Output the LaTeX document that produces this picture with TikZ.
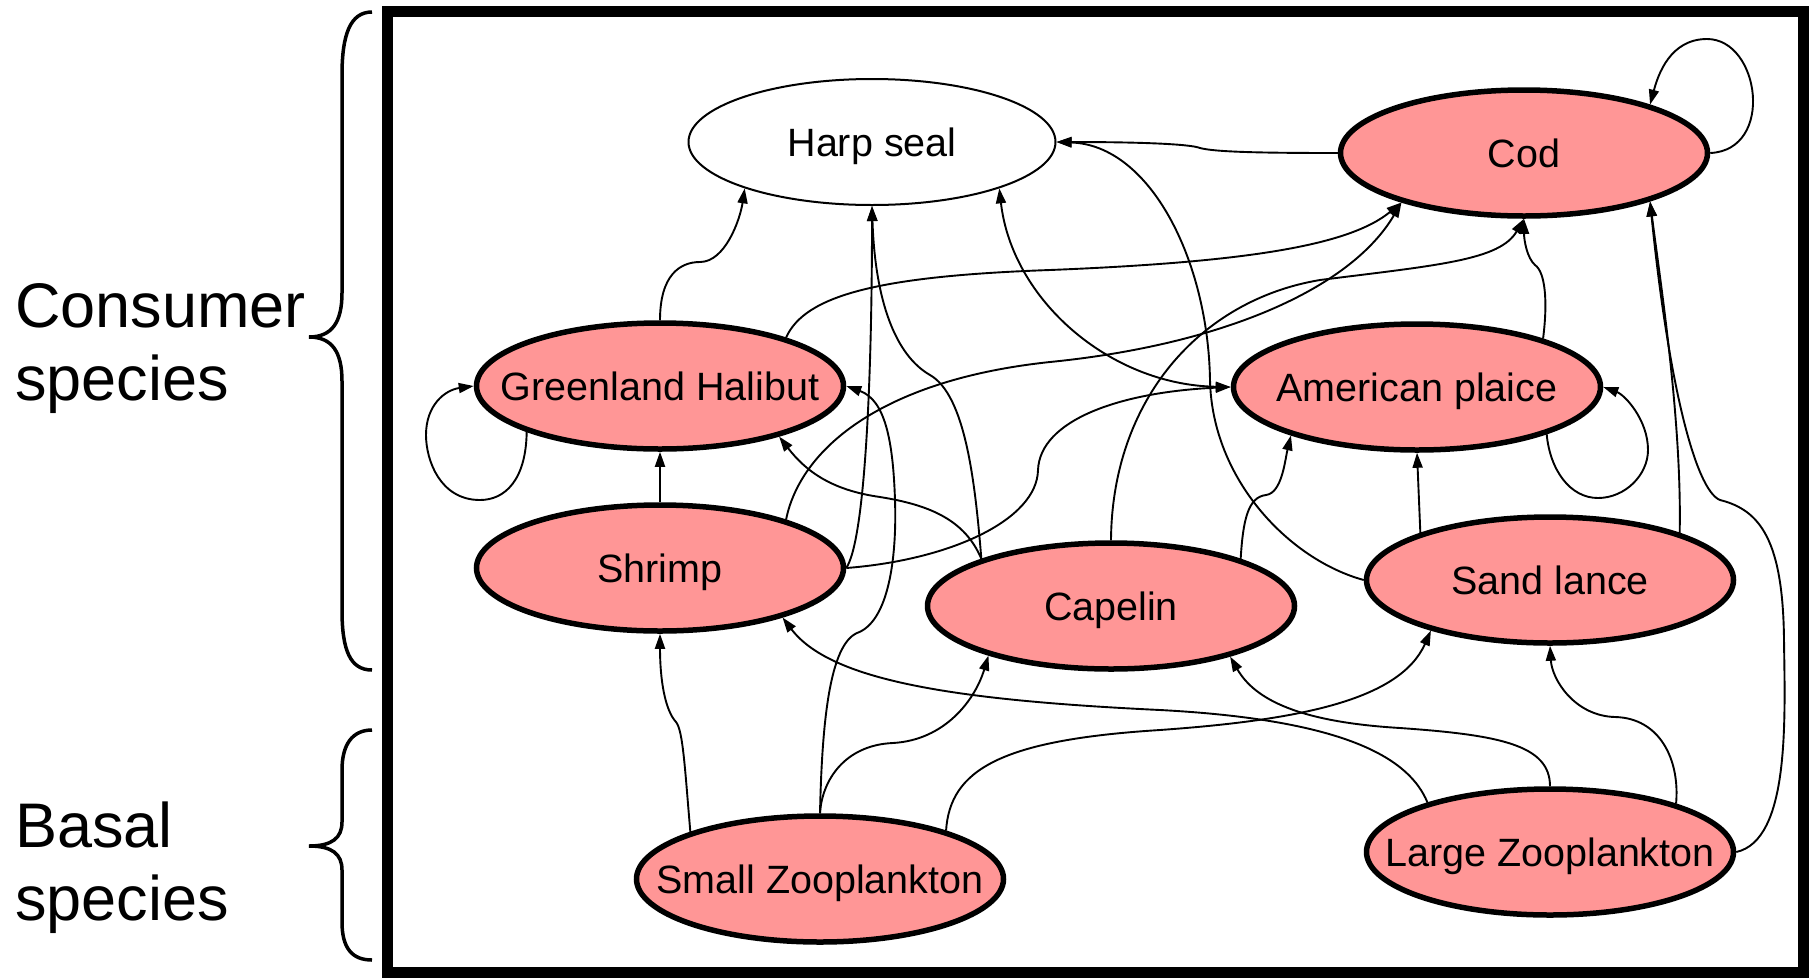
\documentclass[tikz,border=0pt]{standalone}
\usepackage{fontspec}
\setmainfont{Liberation Sans}
\usetikzlibrary{shapes.geometric,arrows.meta}
\definecolor{fishpink}{RGB}{255,150,150}
\newcommand{\spn}[1]{\makebox[0pt]{\raisebox{-14pt}[0pt][0pt]{#1}}}

\begin{document}
\begin{tikzpicture}[x=1pt, y=-1pt,
  sp/.style={ellipse, draw, line width=5.5pt, fill=fishpink, minimum width=367pt, minimum height=126pt, inner sep=0pt, font=\fontsize{39.5}{44}\selectfont},
  wsp/.style={sp, fill=white, line width=2pt},
  tr/.style={-{Triangle[length=15pt,width=10pt]}, line width=1.9pt},
  trb/.style={{Triangle[length=15pt,width=10pt]}-{Triangle[length=15pt,width=10pt]}, line width=1.9pt},
  brc/.style={line width=3.5pt},
  lbl/.style={align=left, inner sep=0pt, anchor=north west, font=\fontsize{63}{73}\selectfont}]
\useasboundingbox (0,0) rectangle (1810,978);
\draw[line width=11pt] (387,11.5) rectangle (1803,972.5);
\node[wsp] (harp) at (872,142) {\spn{Harp seal}};
\node[sp] (cod) at (1524,153) {\spn{Cod}};
\node[sp] (gh) at (660,386) {\spn{Greenland Halibut}};
\node[sp] (ap) at (1417,387) {\spn{American plaice}};
\node[sp] (shrimp) at (660,568) {\spn{Shrimp}};
\node[sp] (capelin) at (1111,606) {\spn{Capelin}};
\node[sp] (sand) at (1550,580) {\spn{Sand lance}};
\node[sp] (szoo) at (820,879) {\spn{Small Zooplankton}};
\node[sp] (lzoo) at (1550,852) {\spn{Large Zooplankton}};
\draw[tr] (cod.west) .. controls (1260,153) and (1215,152) .. (1200,148) .. controls (1190,144) and (1140,142) .. (harp.east);
\draw[tr] (cod.east) .. controls (1775,150) and (1760,39) .. (1707,39) .. controls (1670,39) and (1658,75) .. (cod.21);
\draw[tr] (gh.north) .. controls (660,275) and (680,262) .. (700,262) .. controls (725,262) and (740,220) .. (harp.200);
\draw[tr] (gh.199) .. controls (526,480) and (505,500) .. (480,500) .. controls (440,500) and (426,460) .. (426,435) .. controls (426,405) and (445,390) .. (gh.west);
\draw[tr] (shrimp.north) -- (gh.south);
\draw[tr] (gh.21) .. controls (805,295) and (880,276) .. (1050,270) .. controls (1250,262) and (1350,245) .. (cod.202);
\draw[tr] (shrimp.21) .. controls (800,450) and (880,380) .. (1050,362) .. controls (1220,345) and (1350,290) .. (cod.202);
\draw[tr] (shrimp.east) .. controls (865,540) and (872,380) .. (harp.south);
\draw[tr] (shrimp.east) .. controls (950,560) and (1037,520) .. (1038,470) .. controls (1040,420) and (1120,392) .. (ap.west);
\draw[trb] (harp.340) .. controls (1012,300) and (1110,385) .. (ap.west);
\draw[tr] (sand.west) .. controls (1290,560) and (1212,480) .. (1210,380) .. controls (1208,260) and (1150,145) .. (harp.east);
\draw[tr] (capelin.160) .. controls (975,480) and (965,395) .. (930,375) .. controls (895,355) and (875,300) .. (harp.south);
\draw[tr] (capelin.160) .. controls (965,520) and (930,505) .. (880,497) .. controls (830,490) and (805,470) .. (gh.337);
\draw[tr] (capelin.north) .. controls (1112,400) and (1200,300) .. (1320,280) .. controls (1440,265) and (1500,260) .. (cod.south);
\draw[tr] (capelin.20) .. controls (1243,520) and (1248,497) .. (1266,495) .. controls (1282,493) and (1285,460) .. (ap.201);
\draw[tr] (ap.340) .. controls (1550,470) and (1570,498) .. (1598,498) .. controls (1625,498) and (1648,475) .. (1648,450) .. controls (1648,420) and (1625,395) .. (ap.east);
\draw[tr] (ap.21) .. controls (1548,300) and (1545,272) .. (1535,265) .. controls (1527,258) and (1524,240) .. (cod.south);
\draw[tr] (sand.160) -- (ap.south);
\draw[tr] (sand.20) .. controls (1682,420) and (1660,280) .. (cod.339);
\draw[tr] (lzoo.east) .. controls (1790,840) and (1785,720) .. (1784,640) .. controls (1783,540) and (1760,510) .. (1720,500) .. controls (1695,490) and (1668,380) .. (cod.339);
\draw[tr] (szoo.160) .. controls (685,770) and (683,730) .. (676,722) .. controls (665,710) and (660,680) .. (shrimp.south);
\draw[tr] (szoo.north) .. controls (822,720) and (830,645) .. (857,633) .. controls (888,622) and (897,560) .. (895,500) .. controls (893,440) and (885,400) .. (gh.east);
\draw[tr] (szoo.north) .. controls (822,780) and (845,745) .. (893,743) .. controls (945,740) and (975,700) .. (capelin.202);
\draw[tr] (szoo.21) .. controls (950,770) and (1000,740) .. (1160,730) .. controls (1300,720) and (1400,700) .. (sand.203);
\draw[tr] (lzoo.158) .. controls (1410,760) and (1350,720) .. (1160,710) .. controls (950,700) and (830,680) .. (shrimp.338);
\draw[tr] (lzoo.north) .. controls (1550,745) and (1500,735) .. (1400,728) .. controls (1300,722) and (1255,700) .. (capelin.337);
\draw[tr] (lzoo.21) .. controls (1680,760) and (1660,718) .. (1615,717) .. controls (1575,716) and (1552,680) .. (sand.south);
\draw[brc] (372,12) .. controls (350,12) and (342,35) .. (342,75) -- (342,293) .. controls (342,322) and (332,337) .. (309,337) .. controls (332,337) and (342,352) .. (342,381) -- (342,610) .. controls (342,650) and (350,670) .. (372,670);
\draw[brc] (372,730) .. controls (352,730) and (342,745) .. (342,770) -- (342,822) .. controls (342,838) and (332,846) .. (309,846) .. controls (332,846) and (342,854) .. (342,870) -- (342,922) .. controls (342,948) and (352,960) .. (372,960);
\node[lbl] (cons) at (15,283) {Consumer\\species};
\node[lbl] (basal) at (15,802) {Basal\\species};
\end{tikzpicture}
\end{document}
